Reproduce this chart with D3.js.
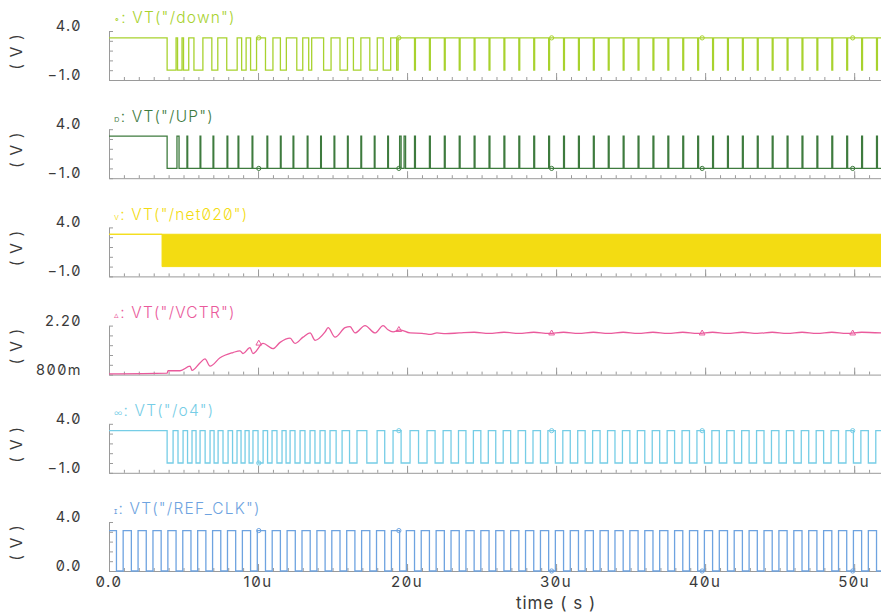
<!DOCTYPE html>
<html><head><meta charset="utf-8">
<script src="https://cdn.jsdelivr.net/npm/d3@7"></script>
<style>
body{margin:0;background:#fff;}
svg text{font-family:Inter,"Liberation Sans",Arial,sans-serif;font-feature-settings:"zero" 1;font-variant-numeric:slashed-zero;}
</style></head><body>
<svg id="c" width="881" height="615"></svg>
<script>
// ---------- data ----------
const timeTickValues = [0, 10, 20, 30, 40, 50];
const timeTickLabels = ["0.0", "10u", "20u", "30u", "40u", "50u"];
const timeTitle = "time ( s )";
const seriesNames = ['VT("/down")', 'VT("/UP")', 'VT("/net020")', 'VT("/VCTR")', 'VT("/o4")', 'VT("/REF_CLK")'];
const seriesMarks = ["∘", "ɒ", "v", "▵", "∞", "ɪ"];
const yTopLabels = ["4.0", "4.0", "4.0", "2.20", "4.0", "4.0"];
const yBottomLabels = ["\u22121.0", "\u22121.0", "\u22121.0", "800m", "\u22121.0", "0.0"];
const yMin = [-1, -1, -1, 0.8, -1, 0];
const yMax = [4, 4, 4, 2.2, 4, 4];
const yUnit = "( V )";
const logicHigh = 3.3, logicLow = 0, timeEnd = 51.8;
// waveform marker times (us)
const markerTimes = [10.05, 19.45, 29.7, 39.8, 49.9];

// transition times (us); signal toggles at each one
const downStartsHigh = true;
const downEdges = [3.9, 4.5, 4.6, 4.9, 5.0, 5.35, 5.7, 6.3, 6.9, 7.3, 7.9, 8.6, 8.9, 9.2, 9.5, 9.9, 10.5, 11.0,
  11.5, 11.9, 12.6, 13.0, 13.4, 13.6, 14.4, 14.9, 15.5, 16.0, 16.4, 16.9, 17.5, 18.0, 18.4, 18.9, 19.3, 19.4,
  20.5, 20.56, 21.5, 21.56, 22.5, 22.56, 23.5, 23.56, 24.5, 24.56, 25.5, 25.56, 26.5, 26.56, 27.5, 27.56,
  28.5, 28.56, 29.5, 29.56, 30.5, 30.56, 31.5, 31.56, 32.5, 32.56, 33.5, 33.56, 34.5, 34.56, 35.5, 35.56,
  36.5, 36.56, 37.5, 37.56, 38.5, 38.56, 39.5, 39.56, 40.5, 40.56, 41.5, 41.56, 42.5, 42.56, 43.5, 43.56,
  44.5, 44.56, 45.5, 45.56, 46.5, 46.56, 47.5, 47.56, 48.5, 48.56, 49.5, 49.56, 50.5, 50.56, 51.5, 51.56];
const upStartsHigh = true;
const upEdges = [3.9, 4.56, 4.7, 5.23, 5.28, 6.11, 6.16, 6.98, 7.03, 7.92, 7.97, 8.66, 8.71, 9.6, 9.65,
  10.6, 10.65, 11.5, 11.55, 12.35, 12.4, 13.3, 13.35, 14.2, 14.25, 15.1, 15.15, 16.0, 16.05, 16.9, 16.95,
  17.8, 17.85, 18.7, 18.75, 19.5, 19.6, 19.8, 19.9,
  20.5, 20.56, 21.5, 21.56, 22.5, 22.56, 23.5, 23.56, 24.5, 24.56, 25.5, 25.56, 26.5, 26.56, 27.5, 27.56,
  28.5, 28.56, 29.5, 29.56, 30.5, 30.56, 31.5, 31.56, 32.5, 32.56, 33.5, 33.56, 34.5, 34.56, 35.5, 35.56,
  36.5, 36.56, 37.5, 37.56, 38.5, 38.56, 39.5, 39.56, 40.5, 40.56, 41.5, 41.56, 42.5, 42.56, 43.5, 43.56,
  44.5, 44.56, 45.5, 45.56, 46.5, 46.56, 47.5, 47.56, 48.5, 48.56, 49.5, 49.56, 50.5, 50.56, 51.5, 51.56];
// net020 toggles far too fast to resolve: its envelope (t, min, max)
const net020T = [0, 3.56, 3.56, 51.8];
const net020Min = [3.3, 3.3, 0, 0];
const net020Max = [3.3, 3.3, 3.3, 3.3];
// VCTR samples
const vctrT = [0, 3.9, 3.96, 4.77, 5.44, 5.57, 6.1, 6.44, 6.78, 7.45, 8.32, 8.79, 8.99, 9.46, 9.66, 10.34,
  11.0, 11.48, 12.15, 12.48, 13.02, 13.49, 13.83, 14.5, 14.7, 15.17, 15.84, 16.17, 16.51, 17.18, 17.85,
  18.39, 18.72, 19.06, 19.53, 20.2, 21.0, 21.6, 22.0, 22.6, 23.5, 24.5, 25.5, 26.5, 27.5, 28.5, 29.5, 30.5,
  31.5, 32.5, 33.5, 34.5, 35.5, 36.5, 37.5, 38.5, 39.5, 40.5, 41.5, 42.5, 43.5, 44.5, 45.5, 46.5, 47.5,
  48.5, 49.5, 50.5, 51.8];
const vctrV = [0.82, 0.84, 0.91, 0.91, 1.04, 0.92, 1.13, 1.25, 1.04, 1.28, 1.43, 1.48, 1.40, 1.57, 1.40, 1.69,
  1.54, 1.72, 1.84, 1.69, 1.87, 1.99, 1.78, 2.02, 2.14, 1.87, 2.14, 2.17, 1.99, 2.20, 1.99,
  2.20, 2.08, 2.02, 2.08, 1.99, 1.98, 1.95, 1.99, 1.97, 1.99, 2.01, 1.98, 2.01, 1.98, 2.01, 1.98, 2.01,
  1.98, 2.01, 1.98, 2.01, 1.98, 2.01, 1.98, 2.01, 1.98, 2.01, 1.98, 2.01, 1.98, 2.01, 1.98, 2.01, 1.98,
  2.01, 1.98, 2.01, 1.99];
const o4StartsHigh = true;
const o4Edges = [3.9, 4.3, 4.63, 4.97, 5.27, 5.57, 5.84, 6.11, 6.45, 6.78, 7.05, 7.32, 7.65, 7.99, 8.29, 8.59,
  8.86, 9.13, 9.4, 9.66, 10.0, 10.34, 10.64, 10.94, 11.27, 11.61, 11.88, 12.15, 12.48, 12.82, 13.15, 13.49,
  13.82, 14.16, 14.5, 14.83, 15.24, 15.64, 16.14, 16.64, 17.3, 17.99, 18.5, 19.06, 19.6, 20.2, 20.77, 21.34,
  21.88, 22.42, 22.95, 23.45, 23.95, 24.45, 24.95, 25.45, 25.95, 26.45, 26.95, 27.45, 27.95, 28.45, 28.95,
  29.45, 29.95, 30.45, 30.95, 31.45, 31.95, 32.45, 32.95, 33.45, 33.95, 34.45, 34.95, 35.45, 35.95, 36.45,
  36.95, 37.45, 37.95, 38.45, 38.95, 39.45, 39.95, 40.45, 40.95, 41.45, 41.95, 42.45, 42.95, 43.45, 43.95,
  44.45, 44.95, 45.45, 45.95, 46.45, 46.95, 47.45, 47.95, 48.45, 48.95, 49.45, 49.95, 50.45, 50.95, 51.45];
const refStartsHigh = true;
const refEdges = [0.5, 0.95, 1.5, 1.95, 2.5, 2.95, 3.5, 3.95, 4.5, 4.95, 5.5, 5.95, 6.5, 6.95, 7.5, 7.95,
  8.5, 8.95, 9.5, 9.95, 10.5, 10.95, 11.5, 11.95, 12.5, 12.95, 13.5, 13.95, 14.5, 14.95, 15.5, 15.95,
  16.5, 16.95, 17.5, 17.95, 18.5, 18.95, 19.5, 19.95, 20.5, 20.95, 21.5, 21.95, 22.5, 22.95, 23.5, 23.95,
  24.5, 24.95, 25.5, 25.95, 26.5, 26.95, 27.5, 27.95, 28.5, 28.95, 29.5, 29.95, 30.5, 30.95, 31.5, 31.95,
  32.5, 32.95, 33.5, 33.95, 34.5, 34.95, 35.5, 35.95, 36.5, 36.95, 37.5, 37.95, 38.5, 38.95, 39.5, 39.95,
  40.5, 40.95, 41.5, 41.95, 42.5, 42.95, 43.5, 43.95, 44.5, 44.95, 45.5, 45.95, 46.5, 46.95, 47.5, 47.95,
  48.5, 48.95, 49.5, 49.95, 50.5, 50.95, 51.5];

// ---------- styles / layout ----------
const colors = ["#a8d22e", "#3e7b3e", "#f3dc12", "#ea5a9c", "#76cde6", "#6ea3e0"];
const markerShapes = [d3.symbolCircle, d3.symbolCircle, d3.symbolTriangle, d3.symbolTriangle, d3.symbolCircle, d3.symbolCircle];
const axisColor = "#9a9a9a";
const xLeft = 109, xRight = 881, bottom0 = 80, pitch = 98.2, panelH = 49;

const svg = d3.select("#c");
const x = d3.scaleLinear().domain([0, timeEnd]).range([xLeft, xRight]);

function steps(startHigh, edges) {
  let lvl = startHigh;
  const pts = [{t: 0, v: lvl ? logicHigh : logicLow}];
  edges.forEach(e => { lvl = !lvl; pts.push({t: e, v: lvl ? logicHigh : logicLow}); });
  pts.push({t: timeEnd, v: lvl ? logicHigh : logicLow});
  return pts;
}
function valueAt(pts, t) {
  let v = pts[0].v;
  for (const p of pts) { if (p.t <= t) v = p.v; else break; }
  return v;
}

const series = [
  {kind: "step", pts: steps(downStartsHigh, downEdges)},
  {kind: "step", pts: steps(upStartsHigh, upEdges)},
  {kind: "band", pts: net020T.map((t, i) => ({t, lo: net020Min[i], hi: net020Max[i]}))},
  {kind: "line", pts: vctrT.map((t, i) => ({t, v: vctrV[i]}))},
  {kind: "step", pts: steps(o4StartsHigh, o4Edges)},
  {kind: "step", pts: steps(refStartsHigh, refEdges)}
];

series.forEach((s, i) => {
  const b = bottom0 + i * pitch, top = b - panelH;
  const y = d3.scaleLinear().domain([yMin[i], yMax[i]]).range([b, top]);
  const g = svg.append("g");

  g.append("g").attr("transform", `translate(0,${b})`)
    .call(d3.axisTop(x).tickValues(d3.range(0, 52, 1)).tickSize(3).tickSizeOuter(0).tickFormat(""));
  const major = g.append("g").attr("transform", `translate(0,${b})`)
    .call(d3.axisTop(x).tickValues(timeTickValues).tickSize(7).tickSizeOuter(0).tickFormat(""));
  major.select(".domain").remove();
  g.append("g").attr("transform", `translate(${xLeft},0)`)
    .call(d3.axisRight(y).tickValues(d3.range(6).map(k => yMin[i] + (yMax[i] - yMin[i]) * k / 5))
      .tickSize(4).tickSizeOuter(0).tickFormat(""));
  g.selectAll(".domain, .tick line").attr("stroke", axisColor).attr("stroke-width", 1);

  g.append("text").attr("x", 82).attr("y", top - 5).attr("dy", "0.35em").attr("text-anchor", "end")
    .attr("font-size", 14.5).attr("letter-spacing", 1.5).attr("fill", "#3a3a3a").text(yTopLabels[i]);
  g.append("text").attr("x", 82).attr("y", b - 5).attr("dy", "0.35em").attr("text-anchor", "end")
    .attr("font-size", 14.5).attr("letter-spacing", 1.5).attr("fill", "#3a3a3a").text(yBottomLabels[i]);
  g.append("text").attr("transform", `translate(16,${(top + b) / 2 - 4}) rotate(-90)`)
    .attr("dy", "0.35em").attr("text-anchor", "middle").attr("font-size", 16).attr("fill", "#3a3a3a")
    .attr("letter-spacing", 1).text(yUnit);

  const tt = g.append("text").attr("x", 114).attr("y", top - 13).attr("dy", "0.35em")
    .attr("fill", colors[i]).attr("font-size", 15.5).attr("font-weight", 300).attr("letter-spacing", 1.2);
  tt.append("tspan").attr("font-size", 9).text(seriesMarks[i]);
  tt.append("tspan").text(":  " + seriesNames[i]);

  if (s.kind === "step") {
    g.append("path").datum(s.pts).attr("fill", "none").attr("stroke", colors[i]).attr("stroke-width", 1.3)
      .attr("d", d3.line().x(d => x(d.t)).y(d => y(d.v)).curve(d3.curveStepAfter));
  } else if (s.kind === "line") {
    g.append("path").datum(s.pts).attr("fill", "none").attr("stroke", colors[i]).attr("stroke-width", 1.3)
      .attr("d", d3.line().x(d => x(d.t)).y(d => y(d.v)).curve(d3.curveMonotoneX));
  } else {
    g.append("path").datum(s.pts).attr("fill", colors[i]).attr("stroke", colors[i]).attr("stroke-width", 1)
      .attr("d", d3.area().x(d => x(d.t)).y0(d => y(d.lo)).y1(d => y(d.hi)));
  }

  if (s.kind !== "band") {
    g.selectAll(".mk").data(markerTimes).enter().append("path")
      .attr("transform", d => {
        const v = s.kind === "line" ? d3.least(s.pts, p => Math.abs(p.t - d)).v : valueAt(s.pts, d);
        return `translate(${x(d)},${y(v)})`;
      })
      .attr("d", d3.symbol(markerShapes[i], 14)).attr("fill", "none")
      .attr("stroke", colors[i]).attr("stroke-width", 1);
  }

  if (i === series.length - 1) {
    g.selectAll(".xlab").data(timeTickValues).enter().append("text")
      .attr("x", d => x(d)).attr("y", b + 11).attr("dy", "0.35em").attr("text-anchor", "middle")
      .attr("font-size", 15).attr("letter-spacing", 1.5).attr("fill", "#3a3a3a")
      .text((d, k) => timeTickLabels[k]);
    g.append("text").attr("x", 556).attr("y", b + 32).attr("dy", "0.35em").attr("text-anchor", "middle")
      .attr("font-size", 17).attr("letter-spacing", 1).attr("fill", "#3a3a3a").text(timeTitle);
  }
});
</script>
</body></html>
